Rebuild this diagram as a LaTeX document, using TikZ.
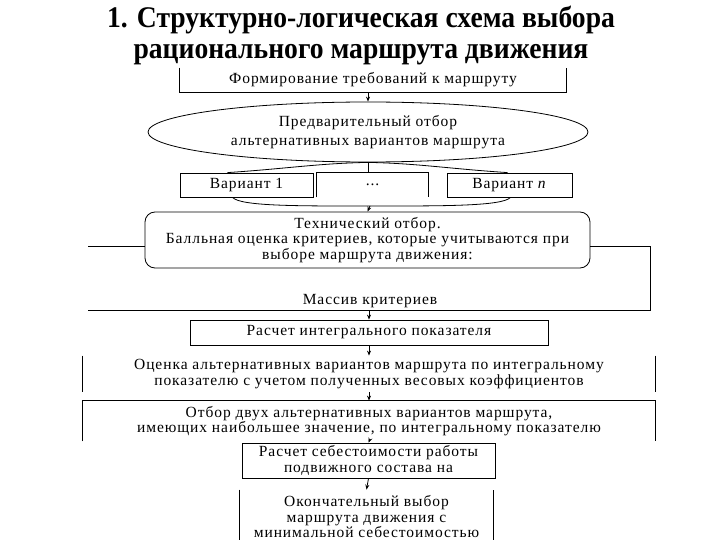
\documentclass[tikz,border=0pt]{standalone}
\usepackage{fontspec}
\setmainfont[LetterSpace=6]{Liberation Serif}
\newfontfamily\titlefont[FakeStretch=0.92]{Liberation Serif}
\usetikzlibrary{arrows.meta,shapes.geometric,calc}

\tikzset{
  txt/.style={align=center,inner sep=0pt,font=\fontsize{15.5}{15.5}\selectfont},
  box/.style={txt,draw},
  arr/.style={-{Stealth[length=5pt,width=4pt]}},
}

\begin{document}
\begin{tikzpicture}[x=1pt,y=-1pt,line width=0.8pt]
  \useasboundingbox (0,0) rectangle (720,540);
  \node[align=center,font=\titlefont\bfseries\fontsize{30}{31}\selectfont] (title) at (361,36)
    {1. Структурно-логическая схема выбора\\рационального маршрута движения};

  % requirements
  \node[txt,minimum width=386pt,minimum height=24pt] (form) at (373,80) {Формирование требований к маршруту};
  \draw (form.north west) -- (form.south west) -- (form.south east) -- (form.north east);

  \node[box,ellipse,minimum width=440pt,minimum height=60pt,font=\fontsize{15.5}{19}\selectfont] (prelim) at (368,132)
    {Предварительный отбор\\альтернативных вариантов маршрута};
  \draw[arr] (form.south -| prelim.north) -- (prelim.north);

  % variants
  \node[box,minimum width=133pt,minimum height=24pt] (var1) at (246.5,185) {Вариант 1};
  \node[txt,minimum width=111pt,minimum height=24pt] (dots) at (372.5,185) {...};
  \node[box,minimum width=125pt,minimum height=24pt] (varn) at (509.5,185) {Вариант \textit{n}};
  \draw (dots.south west) -- (dots.north west) -- (dots.north east) -- (dots.south east);
  \draw (prelim.south) -- (prelim.south |- dots.north);
  \draw (prelim.south) .. controls +(-50,1) and +(60,-4) .. ($(var1.north)+(-19,0)$);
  \draw (prelim.south) .. controls +(50,1) and +(-60,-4) .. ($(varn.north)+(-2,0)$);

  \node[box,rounded corners=10pt,minimum width=445pt,minimum height=56pt] (tech) at (367.5,240)
    {Технический отбор.\\Балльная оценка критериев, которые учитываются при\\выборе маршрута движения:};
  \coordinate (join) at (370,206);
  \draw ($(var1.south)+(-14,0)$) .. controls +(8,9) and +(-70,0) .. (join);
  \draw ($(varn.south)+(1,0)$) .. controls +(-8,9) and +(70,0) .. (join);
  \draw[arr] (join) -- (tech.north);

  % criteria
  \coordinate (fl) at (88,246);
  \coordinate (fr) at (650,246);
  \coordinate (fbl) at (88,310);
  \coordinate (fbr) at (650,310);
  \draw (tech.west |- fl) -- (fl);
  \draw (tech.east |- fr) -- (fr) -- (fbr) -- (fbl);
  \node[txt] (massiv) at (370,301) {Массив критериев};

  \node[box,minimum width=358pt,minimum height=25pt] (integ) at (369,332.5) {Расчет интегрального показателя};
  \draw[arr] (integ.north |- fbl) -- (integ.north);

  \node[txt,minimum width=572pt,minimum height=36pt] (ocenka) at (369,374)
    {Оценка альтернативных вариантов маршрута по интегральному\\показателю с учетом полученных весовых коэффициентов};
  \draw (ocenka.north west) -- (ocenka.south west);
  \draw (ocenka.north east) -- (ocenka.south east);
  \draw[arr] (integ.south) -- (ocenka.north);

  \node[txt,minimum width=572pt,minimum height=40pt] (otbor) at (369,421)
    {Отбор двух альтернативных вариантов маршрута,\\имеющих наибольшее значение, по интегральному показателю};
  \draw (otbor.south west) -- (otbor.north west) -- (otbor.north east) -- (otbor.south east);
  \draw[arr] (ocenka.south) -- (otbor.north);

  \node[box,minimum width=253pt,minimum height=35pt] (cost) at (368.5,460.5)
    {Расчет себестоимости работы\\подвижного состава на};
  \draw[arr] (otbor.south) -- (cost.north);

  \node[txt,minimum width=253pt,minimum height=54pt] (final) at (366.5,517)
    {Окончательный выбор\\маршрута движения с\\минимальной себестоимостью};
  \draw (final.north west) -- (final.south west) -- (final.south east) -- (final.north east);
  \draw[arr] (cost.south) -- (final.north);
\end{tikzpicture}
\end{document}
